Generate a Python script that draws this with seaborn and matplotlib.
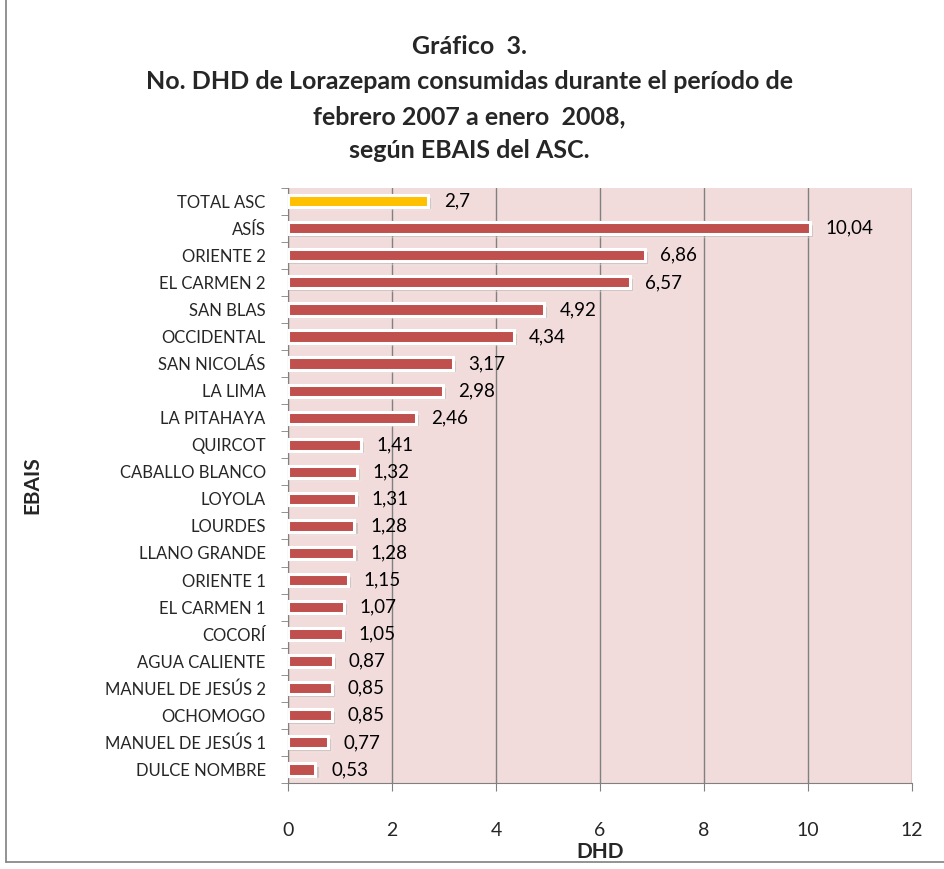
import numpy as np
import pandas as pd
import matplotlib
matplotlib.use("Agg")
import matplotlib.pyplot as plt
import seaborn as sns

# === Data ===
ebais = ["TOTAL ASC", "ASÍS", "ORIENTE 2", "EL CARMEN 2", "SAN BLAS", "OCCIDENTAL",
         "SAN NICOLÁS", "LA LIMA", "LA PITAHAYA", "QUIRCOT", "CABALLO BLANCO", "LOYOLA",
         "LOURDES", "LLANO GRANDE", "ORIENTE 1", "EL CARMEN 1", "COCORÍ", "AGUA CALIENTE",
         "MANUEL DE JESÚS 2", "OCHOMOGO", "MANUEL DE JESÚS 1", "DULCE NOMBRE"]
dhd = [2.7, 10.04, 6.86, 6.57, 4.92, 4.34, 3.17, 2.98, 2.46, 1.41, 1.32, 1.31,
       1.28, 1.28, 1.15, 1.07, 1.05, 0.87, 0.85, 0.85, 0.77, 0.53]
value_labels = ["2,7", "10,04", "6,86", "6,57", "4,92", "4,34", "3,17", "2,98", "2,46",
                "1,41", "1,32", "1,31", "1,28", "1,28", "1,15", "1,07", "1,05", "0,87",
                "0,85", "0,85", "0,77", "0,53"]
x_ticks = [0, 2, 4, 6, 8, 10, 12]

df = pd.DataFrame({"EBAIS": ebais, "DHD": dhd})
palette = ["#FFC000"] + ["#C0504D"] * (len(ebais) - 1)

sns.set_style("white")
plt.rcParams["font.family"] = ["Lato", "DejaVu Sans"]

fig = plt.figure(figsize=(9.44, 8.69), dpi=100)
ax = fig.add_axes([0.305, 0.099, 0.661, 0.685])
ax.set_facecolor("#F2DCDB")

# faint shadow under bars
ax.barh(np.arange(len(dhd)) + 0.08, np.array(dhd) + 0.06, height=0.45,
        color="#9a8a8a", alpha=0.35, zorder=2)
sns.barplot(data=df, x="DHD", y="EBAIS", hue="EBAIS", palette=palette, legend=False,
            saturation=1, width=0.45, edgecolor="white", linewidth=2.2, ax=ax, zorder=3)

for i, (v, lab) in enumerate(zip(dhd, value_labels)):
    ax.text(v + 0.3, i, lab, va="center", ha="left", fontsize=13.5, color="black")

ax.set_xlim(0, 12)
ax.set_ylim(len(ebais) - 0.5, -0.5)
ax.set_xticks(x_ticks)
ax.set_xticklabels([str(t) for t in x_ticks], fontsize=14)
ax.tick_params(axis="x", length=6, color="#808080", pad=22, direction="out", bottom=True)
ax.tick_params(axis="y", length=0, labelsize=12, pad=16)
ax.set_yticks(np.arange(-0.5, len(ebais), 1), minor=True)
ax.tick_params(axis="y", which="minor", length=5, color="#808080", left=True)
ax.grid(axis="x", color="#808080", linewidth=1, zorder=0)
ax.set_axisbelow(True)
for s in ["top", "right"]:
    ax.spines[s].set_visible(False)
for s in ["left", "bottom"]:
    ax.spines[s].set_color("#808080")

ax.set_xlabel("DHD", fontsize=15, fontweight="bold", labelpad=2)
ax.set_ylabel("EBAIS", fontsize=15, fontweight="bold", labelpad=45)

title_lines = ["Gráfico  3.",
               "No. DHD de Lorazepam consumidas durante el período de",
               "febrero 2007 a enero  2008,",
               "según EBAIS del ASC."]
title_y = [0.947, 0.906, 0.866, 0.827]
for t, y in zip(title_lines, title_y):
    fig.text(0.497, y, t, ha="center", va="center", fontsize=18, fontweight="bold")

# outer frame lines (left and bottom)
fig.add_artist(plt.Line2D([0.006, 0.006], [0.008, 1.0], color="#808080", linewidth=1.2))
fig.add_artist(plt.Line2D([0.006, 1.0], [0.008, 0.008], color="#808080", linewidth=1.2))

fig.savefig("out.png", dpi=100)
